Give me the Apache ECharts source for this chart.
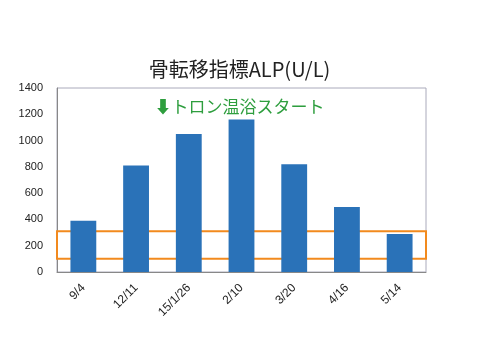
<!DOCTYPE html>
<html><head><meta charset="utf-8">
<script src="https://cdn.jsdelivr.net/npm/echarts@6/dist/echarts.min.js"></script>
<style>html,body{margin:0;padding:0;background:#fff}#c{width:479px;height:360px}</style>
</head><body><div id="c"></div>
<script>
const categories = ['9/4','12/11','15/1/26','2/10','3/20','4/16','5/14'];
const alpValues = [390, 810, 1050, 1160, 820, 495, 290];
const yTicks = [0, 200, 400, 600, 800, 1000, 1200, 1400];
const rangeBox = [100, 310];
const titleText = '骨転移指標ALP(U/L)';
const noteText = '⬇トロン温浴スタート';

const chart = echarts.init(document.getElementById('c'), null, {renderer:'canvas'});
chart.setOption({
  animation:false,
  backgroundColor:'#fff',
  title:[{text:titleText,left:'center',top:54,textStyle:{fontSize:20,fontWeight:'normal',color:'#222',fontFamily:'Noto Sans CJK JP'}},
         {text:noteText,left:'center',top:93,textStyle:{fontSize:17,fontWeight:'normal',color:'#2E9E3E',fontFamily:'Noto Sans CJK JP'}}],
  grid:{left:57,right:53,top:88,bottom:88,show:true,borderColor:'#aab',borderWidth:1},
  xAxis:{type:'category',data:categories,
    axisLine:{lineStyle:{color:'#888'}},axisTick:{show:false},
    axisLabel:{rotate:45,fontSize:12,color:'#222',margin:14,fontFamily:'Liberation Sans'}},
  yAxis:{type:'value',min:yTicks[0],max:yTicks[yTicks.length-1],interval:200,
    axisLine:{show:true,lineStyle:{color:'#888'}},splitLine:{show:false},
    axisLabel:{fontSize:11,color:'#222',margin:14,fontFamily:'Liberation Sans',formatter:v=>String(v)}},
  series:[{type:'bar',data:alpValues,barWidth:'49%',itemStyle:{color:'#2A72B8'},
    markArea:{silent:true,itemStyle:{color:'rgba(0,0,0,0)',borderColor:'#F28A1E',borderWidth:2},
      data:[[{yAxis:rangeBox[0]},{yAxis:rangeBox[1]}]]}}]
});
</script></body></html>
